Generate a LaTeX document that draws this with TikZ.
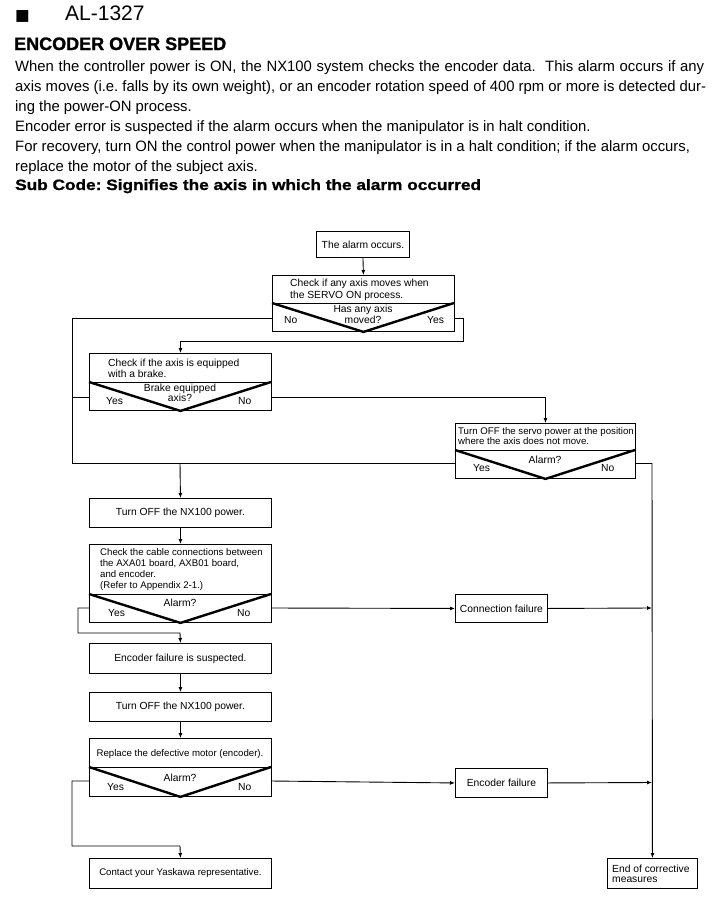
\documentclass[tikz,border=0pt]{standalone}
\usepackage{fontspec}
\setmainfont{Liberation Sans}
\newfontfamily\narrowf[FakeStretch=0.99]{Liberation Sans}
\newfontfamily\heavyf[FakeBold=1.2]{Liberation Sans Bold}
\newfontfamily\heavywf[FakeBold=1.2,FakeStretch=1.15]{Liberation Sans Bold}
\newfontfamily\symf{DejaVu Sans}
\usetikzlibrary{arrows.meta,calc}
\begin{document}
\frenchspacing
\begin{tikzpicture}[x=1pt,y=-1pt,
  box/.style={draw, line width=0.9pt, inner sep=0pt, anchor=north west},
  btxt/.style={font=\fontsize{10.3}{11.5}\selectfont, inner sep=0pt},
  stxt/.style={font=\fontsize{9.65}{11}\selectfont, inner sep=0pt},
  lt/.style={btxt, anchor=base west},
  ct/.style={btxt, anchor=base},
  slt/.style={stxt, anchor=base west},
  sct/.style={stxt, anchor=base},
  vee/.style={line width=2.4pt},
  divl/.style={line width=0.9pt},
  conn/.style={line width=0.9pt},
  arr/.style={conn, -{Latex[length=5pt,width=4pt]}},
  para/.style={anchor=base west, inner sep=0pt, font=\narrowf\fontsize{15}{20}\selectfont},
]
\useasboundingbox (0,0) rectangle (720,905);
\fill[white] (0,0) rectangle (720,905);

% ---------- header ----------
\node[anchor=base west, inner sep=0pt, font=\symf\fontsize{15.5}{16}\selectfont] (bul) at (15,20.5) {■};
\node[anchor=base west, inner sep=0pt, font=\fontsize{21}{22}\selectfont] (code) at (65,20.7) {AL-1327};
\node[anchor=base west, inner sep=0pt, font=\heavyf\fontsize{18}{20}\selectfont] (title) at (14,50) {ENCODER OVER SPEED};
\node[para] (p1) at (15,71) {\makebox[689pt][s]{When the controller power is ON, the NX100 system checks the encoder data.\ \ This alarm occurs if any}};
\node[para] (p2) at (15,91) {\makebox[691pt][s]{axis moves (i.e. falls by its own weight), or an encoder rotation speed of 400 rpm or more is detected dur-}};
\node[para] (p3) at (15,111) {ing the power-ON process.};
\node[para] (p4) at (15,131) {Encoder error is suspected if the alarm occurs when the manipulator is in halt condition.};
\node[para] (p5) at (15,151) {For recovery, turn ON the control power when the manipulator is in a halt condition; if the alarm occurs,};
\node[para] (p6) at (15,171) {replace the motor of the subject axis.};
\node[anchor=base west, inner sep=0pt, font=\heavywf\fontsize{15}{20}\selectfont] (sub) at (15,190) {Sub Code: Signifies the axis in which the alarm occurred};

% ---------- boxes ----------
\node[box, btxt, minimum width=93pt, minimum height=26pt] (alarm) at (316,231) {The alarm occurs.};

% decision 1
\node[box, minimum width=182pt, minimum height=56pt] (d1) at (272,275) {};
\draw[divl] (272,303) -- (454,303);
\draw[vee] (272,303) -- (d1.south) -- (454,303);
\node[lt] (d1a) at (290,286.7) {Check if any axis moves when};
\node[lt] (d1b) at (290,298) {the SERVO ON process.};
\node[ct] (d1c) at (363,312.7) {Has any axis};
\node[ct] (d1d) at (363,323.5) {moved?};
\node[lt] (d1no) at (284,323.5) {No};
\node[lt] (d1yes) at (427,323.5) {Yes};

% decision 2 (brake)
\node[box, minimum width=182pt, minimum height=57pt] (d2) at (89,353) {};
\draw[divl] (89,382) -- (271,382);
\draw[vee] (89,382) -- (d2.south) -- (271,382);
\node[lt] (d2a) at (108,366.7) {Check if the axis is equipped};
\node[lt] (d2b) at (108,377.3) {with a brake.};
\node[ct] (d2c) at (180,391.7) {Brake equipped};
\node[ct] (d2d) at (180,401) {axis?};
\node[lt] (d2yes) at (106,404.3) {Yes};
\node[lt] (d2no) at (238,404.3) {No};

% decision 3 (servo)
\node[box, minimum width=180pt, minimum height=55pt] (d3) at (455,423) {};
\draw[divl] (455,450) -- (635,450);
\draw[vee] (455,450) -- (d3.south) -- (635,450);
\node[slt] (d3a) at (458,434) {Turn OFF the servo power at the position};
\node[slt] (d3b) at (458,444.3) {where the axis does not move.};
\node[ct] (d3c) at (545,463.3) {Alarm?};
\node[lt] (d3yes) at (473,471.7) {Yes};
\node[lt] (d3no) at (601,471.7) {No};

% main column
\node[box, btxt, minimum width=182pt, minimum height=29pt] (off1) at (89,498) {Turn OFF the NX100 power.};

\node[box, minimum width=182pt, minimum height=78pt] (d4) at (89,544) {};
\draw[divl] (89,594) -- (271,594);
\draw[vee] (89,594) -- (d4.south) -- (271,594);
\node[slt] (d4a) at (100,555) {Check the cable connections between};
\node[slt] (d4b) at (100,566) {the AXA01 board, AXB01 board,};
\node[slt] (d4c) at (100,577.3) {and encoder.};
\node[slt] (d4d) at (100,588.5) {(Refer to Appendix 2-1.)};
\node[ct] (d4e) at (180,606.7) {Alarm?};
\node[lt] (d4yes) at (108,616.7) {Yes};
\node[lt] (d4no) at (237,616.7) {No};

\node[box, btxt, minimum width=92pt, minimum height=28pt] (cf) at (455,594) {Connection failure};

\node[box, btxt, minimum width=182pt, minimum height=30pt] (susp) at (89,643) {Encoder failure is suspected.};
\node[box, btxt, minimum width=182pt, minimum height=29pt] (off2) at (89,692) {Turn OFF the NX100 power.};

\node[box, minimum width=182pt, minimum height=58pt] (d5) at (89,738) {};
\draw[divl] (89,767) -- (271,767);
\draw[vee] (89,767) -- (d5.south) -- (271,767);
\node[sct] (d5a) at (180,756.7) {Replace the defective motor (encoder).};
\node[ct] (d5c) at (180,781.7) {Alarm?};
\node[lt] (d5yes) at (107,790.7) {Yes};
\node[lt] (d5no) at (238,790.7) {No};

\node[box, btxt, minimum width=92pt, minimum height=29pt] (ef) at (455,768) {Encoder failure};

\node[box, stxt, minimum width=182pt, minimum height=30pt] (contact) at (89,858) {Contact your Yaskawa representative.};
\node[box, minimum width=90pt, minimum height=30pt] (endb) at (607,858) {};
\node[lt] (enda) at (612,872.3) {End of corrective};
\node[lt] (endb2) at (612,882.7) {measures};

% ---------- connector coordinates ----------
\coordinate (d1L) at (272,318);
\coordinate (d1R) at (454,318);
\coordinate (d2L) at (89,397);
\coordinate (d2R) at (271,397);
\coordinate (d3L) at (455,463);
\coordinate (d3R) at (635,463);
\coordinate (d4L) at (89,608);
\coordinate (d4R) at (271,608);
\coordinate (d5L) at (89,781);
\coordinate (d5R) at (271,781);
\coordinate (leftx) at (72,463);
\coordinate (merge) at (180,463);
\coordinate (yesbend) at (463,341);
\coordinate (rx) at (652,463);
\coordinate (rcf) at (652,608);
\coordinate (ref) at (652,782.5);

% ---------- connectors ----------
\draw[arr] (alarm.south) -- (d1.north);
\draw[conn] (d1L) -| (leftx) -- (merge);
\draw[conn] (d2L) -- (72,397);
\draw[conn] (d3L) -- (merge);
\draw[arr] (merge) -- (off1.north);
\draw[arr] (d1R) -- (463,318) -- (yesbend) -| (d2.north);
\draw[arr] (d2R) -| (d3.north);
\draw[conn] (d3R) -- (rx);
\draw[arr] (rx) -- (endb.north);
\draw[arr] (off1.south) -- (d4.north);
\draw[arr] (d4L) -- (78,608) |- (180,633) -- (susp.north);
\draw[arr] (d4R) -- (cf.west);
\draw[arr] (cf.east) -- (rcf);
\draw[arr] (susp.south) -- (off2.north);
\draw[arr] (off2.south) -- (d5.north);
\draw[arr] (d5L) -- (72,781) |- (180,846) -- (contact.north);
\draw[arr] (d5R) -- (ef.west);
\draw[arr] (ef.east) -- (ref);
\end{tikzpicture}
\end{document}
